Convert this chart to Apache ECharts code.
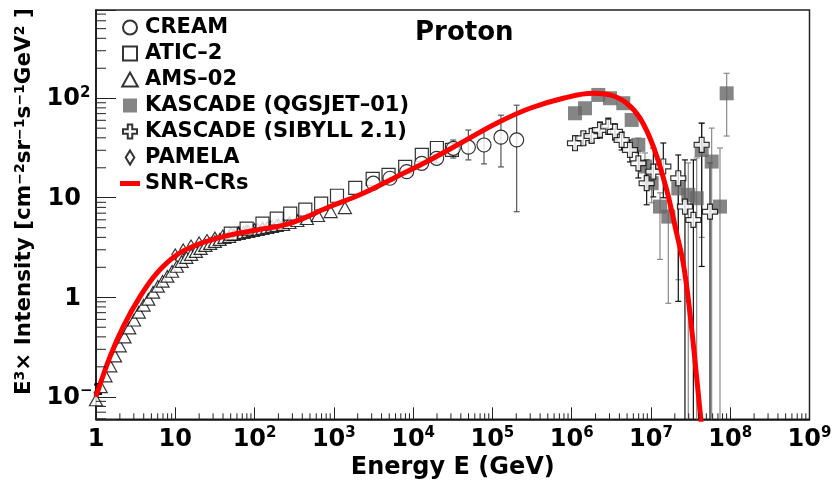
<!DOCTYPE html>
<html><head><meta charset="utf-8">
<script src="https://cdn.jsdelivr.net/npm/echarts@6/dist/echarts.min.js"></script>
<style>html,body{margin:0;padding:0;background:#fff}#c{width:832px;height:488px}</style>
</head><body><div id="c"></div>
<script>
const F = 'DejaVu Sans';

// ---- axis ranges & tick labels ----
const X_MIN = 1, X_MAX = 1e9;
const Y_MIN = 0.0594, Y_MAX = 770;
const xTickExp = [0, 1, 2, 3, 4, 5, 6, 7, 8, 9];
const yTickExp = [-1, 0, 1, 2];

// ---- SNR-CRs model curve ----
const snrE = [1, 1.503, 2.208, 3.589, 5.821, 10.40, 18.58, 40.36, 106.2, 279.9, 895.4, 2355, 6194, 16330, 42950, 113200, 297900, 783400, 1.875e6, 3.041e6, 4.932e6, 7.278e6, 1.072e7, 1.578e7, 2.109e7, 2.559e7, 3.105e7, 3.954e7, 4.467e7];
const snrV = [0.100, 0.253, 0.507, 1.014, 1.742, 2.661, 3.357, 4.064, 4.742, 5.534, 8.166, 11.09, 16.29, 23.99, 36.64, 56.10, 79.25, 100.0, 112.2, 107.9, 89.13, 63.10, 32.66, 12.02, 4.395, 2.188, 0.690, 0.108, 0.040];

// ---- AMS-02 ----
const amsE = [1.000, 1.148, 1.318, 1.514, 1.738, 1.995, 2.291, 2.630, 3.020, 3.467, 3.981, 4.571, 5.248, 6.026, 6.918, 7.943, 9.120, 10.47, 12.02, 13.80, 15.85, 18.20, 20.89, 23.99, 27.54, 31.62, 36.31, 41.69, 47.86, 54.95, 63.10, 72.44, 83.18, 95.50, 109.6, 125.9, 144.5, 166.0, 190.5, 229.1, 275.4, 346.7, 457.1, 631.0, 912.0, 1380];
const amsV = [0.093, 0.126, 0.162, 0.204, 0.257, 0.324, 0.398, 0.490, 0.589, 0.708, 0.832, 0.955, 1.122, 1.288, 1.445, 1.622, 1.820, 2.042, 2.291, 2.512, 2.692, 2.884, 3.090, 3.311, 3.467, 3.631, 3.802, 3.981, 4.074, 4.266, 4.365, 4.467, 4.571, 4.677, 4.786, 4.898, 5.012, 5.129, 5.248, 5.370, 5.623, 5.888, 6.166, 6.607, 7.244, 7.943];

// ---- PAMELA ----
const pamE = [10.0, 12.6, 15.8, 20.0, 25.1, 31.6, 39.8, 50.1, 63.1, 79.4, 100, 126, 158, 200];
const pamV = [2.69, 3.02, 3.31, 3.55, 3.76, 3.98, 4.17, 4.37, 4.52, 4.68, 4.84, 5.01, 5.19, 5.37];

// ---- ATIC-2 ----
const aticE = [50.1, 79.4, 125.9, 190.5, 281.8, 436.5, 691.8, 1096, 1862, 3090, 4898, 7943, 12880, 19950, 30900];
const aticV = [4.365, 4.898, 5.495, 6.166, 6.918, 7.586, 8.710, 10.47, 12.59, 15.49, 16.98, 20.42, 26.92, 31.62, 30.20];

// ---- CREAM ----
const creamE = [3148, 5105, 8299, 12820, 19820, 32140, 49770, 78340, 128200, 202300];
const creamV = [14.0, 15.7, 18.3, 22.2, 24.9, 31.4, 32.2, 33.9, 40.6, 38.1];
const creamLo = [null, null, null, null, 22.5, 25.1, 24.0, 21.9, 20.4, 7.24];
const creamHi = [null, null, null, null, 27.5, 38.0, 47.9, 47.9, 67.6, 85.1];

// ---- KASCADE (QGSJET-01) ----
const qgsE = [1.102e6, 1.472e6, 2.168e6, 3.041e6, 4.477e6, 5.715e6, 6.934e6, 8.414e6, 1.021e7, 1.300e7, 1.656e7, 2.213e7, 2.958e7, 3.776e7, 4.365e7, 5.834e7, 7.430e7, 9.016e7];
const qgsV = [70.6, 79.3, 107.9, 100.0, 89.1, 60.5, 34.0, 20.6, 14.0, 8.15, 6.46, 12.4, 10.7, 9.89, 30.2, 23.1, 8.15, 112];
const qgsLo = [null, null, null, null, null, null, 28.2, 14.1, 8.9, 2.4, 0.87, 1.5, 0.01, 0.01, 4.0, 0.01, 0.01, 41.7];
const qgsHi = [null, null, null, null, null, null, 39.8, 28.2, 20.0, 11.2, 10.0, 18.0, 22.4, 25.1, 56.2, 50.1, 31.6, 178];

// ---- KASCADE (SIBYLL 2.1) ----
const sibE = [1.102e6, 1.403e6, 1.786e6, 2.275e6, 2.897e6, 3.516e6, 4.266e6, 5.433e6, 6.934e6, 8.831e6, 1.072e7, 1.432e7, 2.213e7, 2.685e7, 3.428e7, 4.365e7, 5.559e7];
const sibV = [35.3, 39.6, 41.8, 48.0, 51.9, 46.1, 38.1, 30.2, 22.2, 14.0, 18.3, 20.6, 15.7, 8.15, 5.98, 34.0, 7.24];
const sibLo = [30.2, 34.0, 36.0, 39.8, 43.7, 38.0, 30.2, 22.9, 15.8, 8.5, 10.2, 10.0, 0.91, 0.01, 0.01, 2.04, 0.01];
const sibHi = [41.7, 46.0, 49.0, 57.5, 63.1, 55.0, 45.7, 38.0, 29.5, 24.0, 31.6, 35.5, 26.9, 24.0, 24.0, 56.2, 22.4];

// ---- helpers ----
const zip = (a, b) => a.map((x, i) => [x, b[i]]);
const errData = (E, lo, hi) => E.map((x, i) => [x, lo[i], hi[i]]).filter(d => d[1] != null);

// minor tick positions (axis decoration: 2..9 x 10^n)
const xMinor = [], yMinor = [];
for (let n = 0; n < 9; n++) for (let k = 2; k <= 9; k++) xMinor.push(k * Math.pow(10, n));
for (let n = -2; n <= 2; n++) for (let k = 2; k <= 9; k++) { const v = k * Math.pow(10, n); if (v > Y_MIN && v < Y_MAX) yMinor.push(v); }

const PATH_SQ = 'path://M0,0H10V10H0Z';
const PATH_TRI = 'path://M5,0L10,9L0,9Z';
const PATH_DIA = 'path://M4,0L8,6.5L4,13L0,6.5Z';
const PATH_CROSS = 'path://M3.4,0H6.6V3.4H10V6.6H6.6V10H3.4V6.6H0V3.4H3.4Z';
const PATH_LINE = 'path://M0,0H20V5H0Z';

function tickLabel(v) {
  const l = Math.log10(v), e = Math.round(l);
  if (Math.abs(l - e) > 1e-6) return '';
  if (e === 0) return '{b|1}';
  if (e === 1) return '{b|10}';
  return '{b|10}{s|' + (e < 0 ? '\u2212' + (-e) : e) + '}';
}
const bStyle = { fontFamily: F, fontWeight: 'bold', fontSize: 24, lineHeight: 26, color: '#000', verticalAlign: 'bottom', align: 'left' };
const sStyle = { fontFamily: F, fontWeight: 'bold', fontSize: 15, lineHeight: 15, color: '#000', verticalAlign: 'top', align: 'left' };
const xLabRich = { b: bStyle, s: sStyle };
const yLabRich = { b: bStyle, s: Object.assign({}, sStyle, { width: 1 }) };

function errSeries(name, data, color, z) {
  return {
    type: 'custom', name: name, silent: true, z: z, data: data,
    encode: { x: 0, y: [1, 2] },
    renderItem(params, api) {
      const cs = params.coordSys;
      const top = cs.y, bot = cs.y + cs.height;
      const p1 = api.coord([api.value(0), api.value(1)]);
      const p2 = api.coord([api.value(0), api.value(2)]);
      const x = p1[0];
      const yl = Math.min(bot, Math.max(top, p1[1]));
      const yh = Math.min(bot, Math.max(top, p2[1]));
      const st = { stroke: color, lineWidth: 1.2 };
      const ch = [{ type: 'line', shape: { x1: x, y1: yl, x2: x, y2: yh }, style: st }];
      if (p2[1] >= top) ch.push({ type: 'line', shape: { x1: x - 3, y1: yh, x2: x + 3, y2: yh }, style: st });
      if (p1[1] <= bot) ch.push({ type: 'line', shape: { x1: x - 3, y1: yl, x2: x + 3, y2: yl }, style: st });
      return { type: 'group', children: ch };
    }
  };
}

const openStyle = { color: '#fff', borderColor: '#000', borderWidth: 1.2 };

const option = {
  animation: false,
  backgroundColor: '#fff',
  title: {
    text: 'Proton', left: 415, top: 20, padding: 0,
    textStyle: { fontFamily: F, fontSize: 26, fontWeight: 'bold', color: '#000' }
  },
  legend: {
    orient: 'vertical', left: 120, top: 17, padding: 0,
    itemWidth: 20, itemHeight: 14, itemGap: 5, selectedMode: false,
    symbolKeepAspect: true,
    textStyle: { fontFamily: F, fontSize: 21, fontWeight: 'bold', color: '#000' },
    data: [
      { name: 'CREAM', icon: 'circle' },
      { name: 'ATIC\u20132', icon: PATH_SQ },
      { name: 'AMS\u201302', icon: PATH_TRI },
      { name: 'KASCADE (QGSJET\u201301)', icon: PATH_SQ },
      { name: 'KASCADE (SIBYLL 2.1)', icon: PATH_CROSS },
      { name: 'PAMELA', icon: PATH_DIA },
      { name: 'SNR\u2013CRs', icon: PATH_LINE, itemStyle: { color: '#ff0000', borderWidth: 0 } }
    ]
  },
  grid: {
    left: 96, top: 10, width: 713.5, height: 409.3,
    show: true, borderColor: '#222', borderWidth: 1.5, backgroundColor: 'transparent',
    containLabel: false, outerBoundsMode: 'none'
  },
  xAxis: {
    type: 'log', logBase: 10, min: X_MIN, max: X_MAX,
    name: 'Energy E (GeV)', nameLocation: 'middle', nameGap: 36,
    nameTextStyle: { fontFamily: F, fontSize: 24, fontWeight: 'bold', color: '#000' },
    axisLine: { show: true, lineStyle: { color: '#111', width: 1.5 } },
    axisTick: { show: true, inside: true, length: 12, lineStyle: { color: '#222', width: 1 } },
    minorTick: { show: false },
    splitLine: { show: false },
    axisLabel: { margin: 6, formatter: tickLabel, rich: xLabRich, hideOverlap: false }
  },
  yAxis: {
    type: 'log', logBase: 10, min: Y_MIN, max: Y_MAX,
    name: '{nb|E}{ns|3}{nb|\u00d7 Intensity [cm}{ns|\u22122}{nb|sr}{ns|\u22121}{nb|s}{ns|\u22121}{nb|GeV}{ns|2}{nb| ]}',
    nameLocation: 'middle', nameRotate: 90, nameGap: 54,
    nameTextStyle: {
      padding: [0, 0, 0, 26],
      rich: {
        nb: { fontFamily: F, fontWeight: 'bold', fontSize: 21.5, lineHeight: 22, color: '#000', verticalAlign: 'bottom' },
        ns: { fontFamily: F, fontWeight: 'bold', fontSize: 14, lineHeight: 14, color: '#000', verticalAlign: 'top' }
      }
    },
    axisLine: { show: true, lineStyle: { color: '#111', width: 1.5 } },
    axisTick: { show: true, inside: true, length: 20, lineStyle: { color: '#222', width: 1 } },
    minorTick: { show: false },
    splitLine: { show: false },
    axisLabel: { margin: 15, formatter: tickLabel, rich: yLabRich, hideOverlap: false }
  },
  series: [
    errSeries('creamErr', errData(creamE, creamLo, creamHi), '#555', 2),
    errSeries('qgsErr', errData(qgsE, qgsLo, qgsHi), '#8a8a8a', 2),
    errSeries('sibErr', errData(sibE, sibLo, sibHi), '#111', 2),
    { type: 'scatter', name: 'PAMELA', data: zip(pamE, pamV), symbol: PATH_DIA, symbolSize: 11, symbolKeepAspect: true, itemStyle: openStyle, z: 3 },
    { type: 'scatter', name: 'AMS\u201302', data: zip(amsE, amsV), symbol: PATH_TRI, symbolSize: 13, symbolKeepAspect: true, itemStyle: openStyle, z: 3 },
    { type: 'scatter', name: 'ATIC\u20132', data: zip(aticE, aticV), symbol: PATH_SQ, symbolSize: 13, symbolKeepAspect: true, itemStyle: openStyle, z: 3 },
    { type: 'scatter', name: 'CREAM', data: zip(creamE, creamV), symbol: 'circle', symbolSize: 14, itemStyle: openStyle, z: 3 },
    { type: 'scatter', name: 'KASCADE (QGSJET\u201301)', data: zip(qgsE, qgsV), symbol: PATH_SQ, symbolSize: 14, symbolKeepAspect: true, itemStyle: { color: '#666', borderWidth: 0 }, z: 3 },
    { type: 'scatter', name: 'KASCADE (SIBYLL 2.1)', data: zip(sibE, sibV), symbol: PATH_CROSS, symbolSize: 15, symbolKeepAspect: true, itemStyle: openStyle, z: 4 },
    { type: 'line', name: 'SNR\u2013CRs', data: zip(snrE, snrV), symbol: 'none', smooth: 0.4, clip: true,
      lineStyle: { color: '#ff0000', width: 5 }, itemStyle: { color: '#ff0000' }, z: 5 },
    { type: 'custom', name: 'xMinorTicks', silent: true, z: 6, data: xMinor.map(v => [v, 1]),
      renderItem(params, api) {
        const cs = params.coordSys, b = cs.y + cs.height;
        const x = api.coord([api.value(0), 1])[0];
        return { type: 'line', shape: { x1: x, y1: b, x2: x, y2: b - 6 }, style: { stroke: '#222', lineWidth: 1 } };
      } },
    { type: 'custom', name: 'yMinorTicks', silent: true, z: 6, data: yMinor.map(v => [1, v]),
      renderItem(params, api) {
        const cs = params.coordSys, l = cs.x;
        const y = api.coord([1, api.value(1)])[1];
        return { type: 'line', shape: { x1: l, y1: y, x2: l + 10, y2: y }, style: { stroke: '#222', lineWidth: 1 } };
      } }
  ]
};

const chart = echarts.init(document.getElementById('c'), null, { renderer: 'canvas' });
chart.setOption(option);
</script></body></html>
